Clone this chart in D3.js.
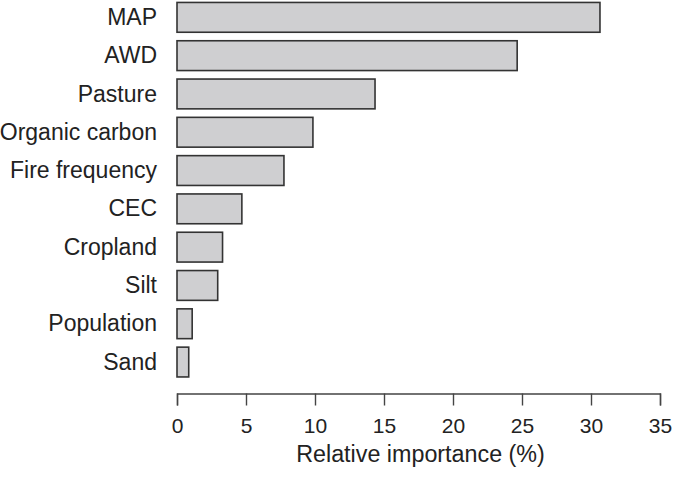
<!DOCTYPE html>
<html>
<head>
<meta charset="utf-8">
<script src="https://cdn.jsdelivr.net/npm/d3@7"></script>
<style>
  body { margin: 0; background: #fff; }
  text { font-family: "Liberation Sans", Arial, sans-serif; fill: #222; }
</style>
</head>
<body>
<script>
var categories = ["MAP", "AWD", "Pasture", "Organic carbon", "Fire frequency",
                  "CEC", "Cropland", "Silt", "Population", "Sand"];
var importance = [30.65, 24.65, 14.35, 9.85, 7.75, 4.7, 3.3, 2.95, 1.1, 0.85];
var xTicks = [0, 5, 10, 15, 20, 25, 30, 35];

var width = 675, height = 477;

var svg = d3.select("body").append("svg")
            .attr("width", width)
            .attr("height", height);

var x = d3.scaleLinear().domain([0, 35]).range([177, 660]);
var y = d3.scaleBand()
          .domain(categories)
          .range([-1.8, 381.2])
          .paddingInner(0.18)
          .paddingOuter(0.09);

// bars
svg.selectAll("rect.bar")
   .data(categories)
   .enter()
   .append("rect")
   .attr("class", "bar")
   .attr("x", x(0))
   .attr("y", function(d) { return y(d) + 0.8; })
   .attr("width", function(d, i) { return x(importance[i]) - x(0); })
   .attr("height", y.bandwidth() - 1.6)
   .style("fill", "#cfcfd1")
   .style("stroke", "#333")
   .style("stroke-width", 1.6);

// category labels
svg.selectAll("text.cat")
   .data(categories)
   .enter()
   .append("text")
   .attr("class", "cat")
   .attr("x", 157)
   .attr("y", function(d) { return y(d) + y.bandwidth() / 2 + 7.6; })
   .attr("text-anchor", "end")
   .attr("font-size", "23px")
   .text(function(d) { return d; });

// x axis
var xAxis = d3.axisBottom(x)
              .tickValues(xTicks)
              .tickSize(12)
              .tickSizeOuter(12)
              .tickPadding(13);

var gx = svg.append("g")
            .attr("transform", "translate(0,393.5)")
            .call(xAxis);
gx.select(".domain").attr("stroke", "#444").attr("stroke-width", 1.4);
gx.selectAll(".tick line").attr("stroke", "#444").attr("stroke-width", 1.4);
gx.selectAll(".tick text")
  .attr("font-size", "21px")
  .attr("font-family", "Liberation Sans, Arial, sans-serif")
  .attr("fill", "#222");

svg.append("text")
   .attr("x", x(17.5) + 2)
   .attr("y", 462)
   .attr("text-anchor", "middle")
   .attr("font-size", "23.3px")
   .text("Relative importance (%)");
</script>
</body>
</html>
